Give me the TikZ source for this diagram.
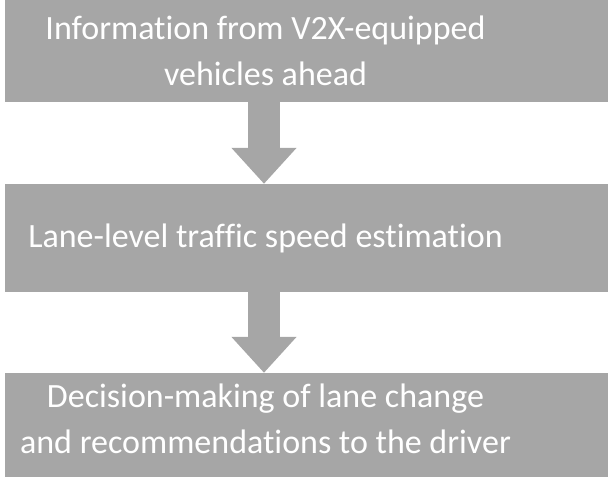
\documentclass[tikz,border=0pt]{standalone}
\usepackage{fontspec}
\setmainfont{Carlito}[Ligatures={NoCommon}]
\usetikzlibrary{arrows.meta}
\definecolor{boxgray}{rgb}{0.65, 0.65, 0.65}

\begin{document}
\begin{tikzpicture}[x=1pt,y=-1pt,
    box/.style={fill=boxgray, rectangle, inner sep=0pt, minimum width=603pt},
    txt/.style={text=white, align=center, font=\fontsize{34}{46}\selectfont},
    flow/.style={boxgray, line width=32pt, line cap=butt, -{Triangle[width=63pt,length=36pt]}}]
            \useasboundingbox (0,0) rectangle (608,477);
            %
            \node[box, minimum height=102pt] (info) at (306.5,51) {};
            \node[box, minimum height=108pt] (speed) at (306.5,238) {};
            \node[box, minimum height=104pt] (decide) at (306.5,425) {};

            % texts
            \node[txt] (infotxt) at ([xshift=-41pt]info.center) {Information from V2X-equipped\\vehicles ahead};
            \node[txt] (speedtxt) at ([xshift=-41pt]speed.center) {Lane-level traffic speed estimation};
            \node[txt] (decidetxt) at ([xshift=-41pt,yshift=6pt]decide.center) {Decision-making of lane change\\and recommendations to the driver};

            % block arrows
            \draw[flow] ([xshift=-42.5pt]info.south) -- ([xshift=-42.5pt]speed.north);
            \draw[flow] ([xshift=-42.5pt]speed.south) -- ([xshift=-42.5pt]decide.north);
\end{tikzpicture}
\end{document}
